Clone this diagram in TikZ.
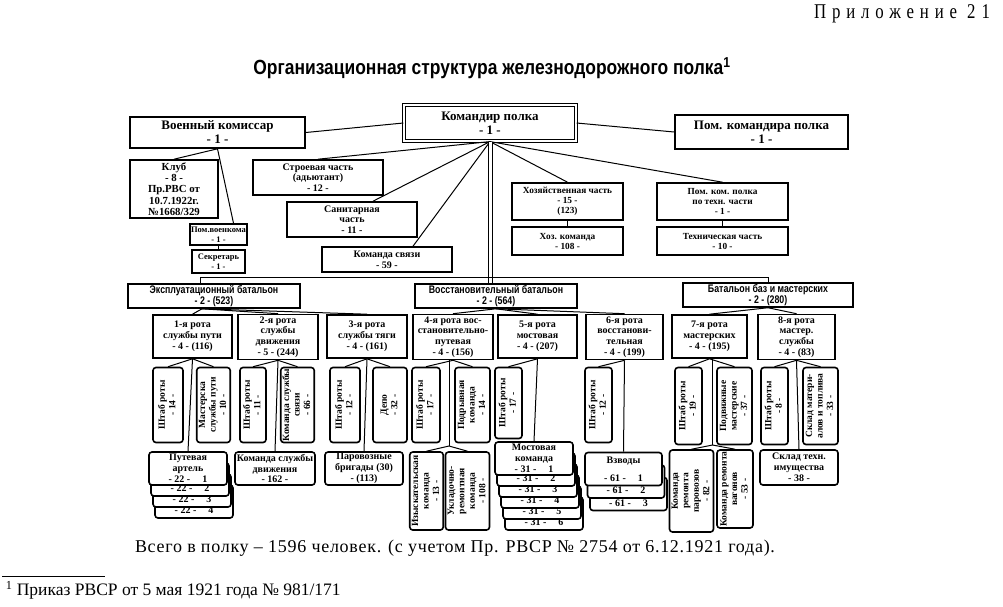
\documentclass[tikz,border=0pt]{standalone}
\usepackage{fontspec}
\setmainfont{Liberation Serif}
\newfontfamily\narrowsans[FakeStretch=0.8]{Liberation Sans}
\newfontfamily\titlefont[FakeStretch=0.85]{Liberation Sans}
\newfontfamily\appfont[LetterSpace=28,FakeStretch=0.8]{Liberation Serif}
\newfontfamily\totalfont[LetterSpace=4]{Liberation Serif}
\usepackage{tikz}
\usetikzlibrary{shapes}
\newcommand{\vtext}[1]{\rotatebox{90}{\begin{tabular}{@{}c@{}}#1\end{tabular}}}

\begin{document}
\begin{tikzpicture}[x=1pt,y=-1pt,line width=1pt,
  box/.style={draw,line width=1.6pt,fill=white,align=center,inner sep=1pt,font=\bfseries\fontsize{10}{10.8}\selectfont},
  bigbox/.style={box,font=\bfseries\fontsize{13}{14}\selectfont},
  midbox/.style={box,font=\bfseries\fontsize{9.3}{10}\selectfont},
  smallbox/.style={box,font=\bfseries\fontsize{8.5}{9.5}\selectfont},
  batbox/.style={box,font=\narrowsans\bfseries\fontsize{11}{11.5}\selectfont},
  card/.style={box,rounded corners=3pt},
  vcard/.style={card,font=\bfseries\fontsize{9.5}{10.5}\selectfont},
  backcard/.style={card,text height=25pt,text depth=1pt,inner ysep=2pt}]
%%
\fill[white] (0,0) rectangle (1003,606);
\useasboundingbox (0,0) rectangle (1003,606);
%
  \node (app) at (902,14) {\appfont\fontsize{21}{21}\selectfont Приложение 21};
  \node (title) at (492,68) {\titlefont\bfseries\fontsize{20.5}{20.5}\selectfont Организационная структура железнодорожного полка\textsuperscript{1}};
%% command level
  \node (cmd) at (490,123) [bigbox,double,double distance=2pt,line width=1.2pt,minimum width=172,minimum height=36] {Командир полка\\- 1 -};
  \node (kom) at (217.5,132.5) [bigbox,minimum width=175,minimum height=31] {Военный комиссар\\- 1 -};
  \node (pom) at (761.5,132) [bigbox,minimum width=173,minimum height=34] {Пом. командира полка\\- 1 -};
  \node (klub) at (174,189) [box,font=\bfseries\fontsize{10.8}{11.2}\selectfont,minimum width=88,minimum height=58] {Клуб\\- 8 -\\Пр.РВС от\\10.7.1922г.\\№1668/329};
  \node (stroy) at (318,177.5) [box,minimum width=130,minimum height=35] {Строевая часть\\(адьютант)\\- 12 -};
  \node (san) at (352,219.5) [box,minimum width=130,minimum height=35] {Санитарная\\часть\\- 11 -};
  \node (pvk) at (218.5,234.5) [smallbox,minimum width=53,minimum height=21] {Пом.военкома\\- 1 -};
  \node (sek) at (218.5,261.5) [smallbox,minimum width=53,minimum height=23] {Секретарь\\- 1 -};
  \node (svyaz) at (387,259.5) [box,minimum width=130,minimum height=25] {Команда связи\\- 59 -};
  \node (hoz) at (567.5,201.5) [midbox,minimum width=111,minimum height=37] {Хозяйственная часть\\- 15 -\\(123)};
  \node (hozk) at (567.5,241) [midbox,minimum width=111,minimum height=28] {Хоз. команда\\- 108 -};
  \node (pkt) at (722.5,201.5) [midbox,minimum width=131,minimum height=37] {Пом. ком. полка\\по техн. части\\- 1 -};
  \node (tech) at (722.5,241) [midbox,minimum width=131,minimum height=28] {Техническая часть\\- 10 -};
%% battalions
  \node (exp) at (214,296) [batbox,minimum width=172,minimum height=22] {Эксплуатационный батальон\\- 2 - (523)};
  \node (vos) at (496,296) [batbox,minimum width=162,minimum height=22] {Восстановительный батальон\\- 2 - (564)};
  \node (baz) at (768,295) [batbox,minimum width=170,minimum height=22] {Батальон баз и мастерских\\- 2 - (280)};
%% companies
  \node (r1) at (192.5,336.5) [box,minimum width=79,minimum height=43] {1-я рота\\службы пути\\- 4 - (116)};
  \node (r2) at (278,337) [box,minimum width=80,minimum height=45] {2-я рота\\службы\\движения\\- 5 - (244)};
  \node (r3) at (367,336.5) [box,minimum width=80,minimum height=43] {3-я рота\\службы тяги\\- 4 - (161)};
  \node (r4) at (453,337) [box,minimum width=80,minimum height=45] {4-я рота вос-\\становительно-\\путевая\\- 4 - (156)};
  \node (r5) at (537.5,336.5) [box,minimum width=79,minimum height=43] {5-я рота\\мостовая\\- 4 - (207)};
  \node (r6) at (624.5,337) [box,minimum width=77,minimum height=45] {6-я рота\\восстанови-\\тельная\\- 4 - (199)};
  \node (r7) at (709.5,336.5) [box,minimum width=75,minimum height=43] {7-я рота\\мастерских\\- 4 - (195)};
  \node (r8) at (796.5,337) [box,minimum width=77,minimum height=45] {8-я рота\\мастер.\\службы\\- 4 - (83)};
%% company staff and shops
  \node (s1a) at (168,405) [vcard,minimum width=30,minimum height=75] {\vtext{Штаб роты\\- 14 -}};
  \node (s1b) at (213.5,405) [vcard,minimum width=33,minimum height=75] {\vtext{Мастерска\\службы пути\\- 10 -}};
  \node (s2a) at (253,405) [vcard,minimum width=26,minimum height=75] {\vtext{Штаб роты\\- 11 -}};
  \node (s2b) at (297.5,405) [vcard,minimum width=31,minimum height=75] {\vtext{Команда службы\\связи\\- 66 -}};
  \node (s3a) at (345,405) [vcard,minimum width=30,minimum height=75] {\vtext{Штаб роты\\- 12 -}};
  \node (s3b) at (390,405) [vcard,minimum width=34,minimum height=75] {\vtext{Депо\\- 32 -}};
  \node (s4a) at (426,405) [vcard,minimum width=28,minimum height=75] {\vtext{Штаб роты\\- 17 -}};
  \node (s4b) at (472.5,405) [vcard,minimum width=35,minimum height=75] {\vtext{Подрывная\\команда\\- 14 -}};
  \node (s5a) at (508.5,403) [vcard,minimum width=27,minimum height=71] {\vtext{Штаб роты\\- 17 -}};
  \node (s6a) at (598.5,405) [vcard,minimum width=27,minimum height=75] {\vtext{Штаб роты\\- 12 -}};
  \node (s7a) at (688.5,406) [vcard,minimum width=27,minimum height=77] {\vtext{Штаб роты\\- 19 -}};
  \node (s7b) at (734.5,406) [vcard,minimum width=35,minimum height=77] {\vtext{Подвижные\\мастерские\\- 37 -}};
  \node (s8a) at (774.5,406) [vcard,minimum width=27,minimum height=77] {\vtext{Штаб роты\\- 8 -}};
  \node (s8b) at (820.5,406) [vcard,minimum width=35,minimum height=77] {\vtext{Склад матери-\\алов и топлива\\- 33 -}};
%% lower units (stacks drawn back to front)
  \foreach \i in {4,3,2}
    \node (art\i) at ({188+2*(\i-1)},{468.5+11*(\i-1)}) [backcard,minimum width=78,minimum height=33] {- 22 -\hspace{1.2em}\i};
  \node (art1) at (188,468.5) [card,minimum width=78,minimum height=33] {Путевая\\артель\\- 22 -\hspace{1.2em}1};
  \node (kd) at (275,468.5) [card,minimum width=80,minimum height=33] {Команда службы\\движения\\- 162 -};
  \node (pb) at (364,468.5) [card,minimum width=78,minimum height=33] {Паровозные\\бригады (30)\\- (113)};
  \node (izy) at (426.5,491) [vcard,minimum width=33,minimum height=78] {\vtext{Изыскательская\\команда\\- 13 -}};
  \node (ukl) at (467.5,491) [vcard,minimum width=41,minimum height=78] {\vtext{Укладочно-\\ремонтная\\команда\\- 108 -}};
  \foreach \i in {6,5,4,3,2}
    \node (most\i) at ({534+2*(\i-1)},{458.5+11*(\i-1)}) [backcard,minimum width=78,minimum height=33] {- 31 -\hspace{1.2em}\i};
  \node (most1) at (534,458.5) [card,minimum width=78,minimum height=33] {Мостовая\\команда\\- 31 -\hspace{1.2em}1};
  \foreach \i in {3,2}
    \node (vzv\i) at ({623.5+2.5*(\i-1)},{469+12.5*(\i-1)}) [backcard,minimum width=77,minimum height=33] {- 61 -\hspace{1.2em}\i};
  \node (vzv1) at (623.5,469) [card,minimum width=77,minimum height=33] {Взводы\\[7pt]- 61 -\hspace{1.2em}1};
  \node (kp) at (691.5,491) [vcard,minimum width=43,minimum height=82] {\vtext{Команда\\ремонта\\паровозов\\- 82 -}};
  \node (kv) at (735,489) [vcard,minimum width=36,minimum height=78] {\vtext{Команда ремонта\\вагонов\\- 53 -}};
  \node (skl) at (799,467.5) [card,minimum width=78,minimum height=35] {Склад техн.\\имущества\\- 38 -};
%% totals and footnote
  \node (total) at (455,548) {\totalfont\fontsize{18}{18}\selectfont Всего в полку – 1596 человек. (с учетом Пр. РВСР № 2754 от 6.12.1921 года).};
  \node (fn) at (2,590) [anchor=west] {\fontsize{17.5}{17.5}\selectfont\textsuperscript{1} Приказ РВСР от 5 мая 1921 года № 981/171};
  \draw[line width=0.6pt] (2,576) -- (105,576);
%
%% connectors
  \draw (kom.east) -- (cmd.west);
  \draw (cmd.east) -- (pom.west);
  \draw (kom.south) -- (klub.north);
  \draw (kom.south) -- ([xshift=15pt]pvk.north);
  \draw (pvk.south) -- (sek.north);
  \draw (cmd.south) -- (stroy.north);
  \draw (cmd.south) -- ([xshift=21pt]san.north);
  \draw (cmd.south) -- ([xshift=26pt]svyaz.north);
  \draw (cmd.south) -- (hoz.north);
  \draw (cmd.south) -- (pkt.north);
  \draw (hoz.south) -- (hozk.north);
  \draw (pkt.south) -- (tech.north);
  \draw[double,double distance=3pt] (cmd.south) -- (cmd.south |- vos.north);
  \draw ([xshift=-14pt]exp.north) -- ++(0,-6) -| (baz.north);
%
  \foreach \r in {r1,r2,r3} \draw ([xshift=-12pt]exp.south) -- (\r.north);
  \foreach \r in {r4,r5,r6} \draw (vos.south) -- (\r.north);
  \foreach \r in {r7,r8} \draw (baz.south) -- (\r.north);
%
  \draw (s1a.north) -- (r1.south) -- (s1b.north);
  \draw (s2a.north) -- (r2.south) -- (s2b.north);
  \draw (s3a.north) -- (r3.south) -- (s3b.north);
  \draw (s4a.north) -- (r4.south) -- (s4b.north);
  \draw (s5a.north) -- (r5.south);
  \draw (s6a.north) -- (r6.south);
  \draw (s7a.north) -- (r7.south) -- (s7b.north);
  \draw (s8a.north) -- (r8.south) -- (s8b.north);
  \draw (r1.south) -- (art1.north);
  \draw (r2.south) -- (kd.north);
  \draw (r3.south) -- (pb.north);
  \coordinate (t4) at ([xshift=-4pt]r4.south |- 0,446);
  \draw ([xshift=-4pt]r4.south) -- (t4);
  \draw (izy.north) -- (t4) -- (ukl.north);
  \draw (r5.south) -- (most1.north);
  \draw (r6.south) -- (vzv1.north);
  \coordinate (t7) at ([xshift=3pt]r7.south |- 0,445);
  \draw ([xshift=3pt]r7.south) -- (t7);
  \draw (kp.north) -- (t7) -- (kv.north);
  \draw (r8.south) -- (skl.north);
%
\end{tikzpicture}
\end{document}
